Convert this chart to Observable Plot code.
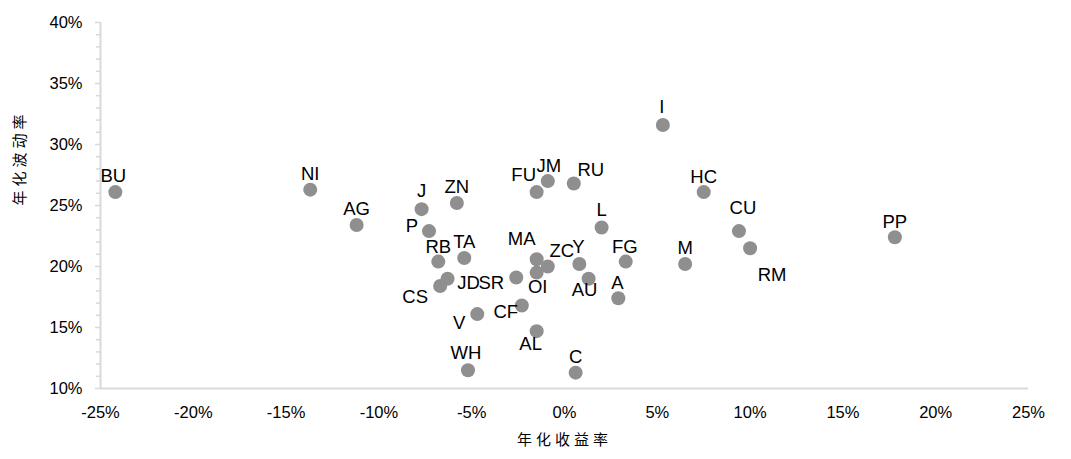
<!DOCTYPE html>
<html>
<head>
<meta charset="utf-8">
<script src="https://cdn.jsdelivr.net/npm/d3@7"></script>
<script src="https://cdn.jsdelivr.net/npm/@observablehq/plot@0.6"></script>
<style>
  html, body { margin: 0; padding: 0; background: #fff; }
  #chart svg { display: block; }
</style>
</head>
<body>
<div id="chart"></div>
<script>
// Commodity futures: annualized return (%) vs annualized volatility (%)
const names = ["BU","NI","AG","J","ZN","P","RB","TA","JD","CS","SR","MA","ZC","OI","Y","AU","A","FG","CF","V","AL","WH","C","FU","JM","RU","L","I","HC","CU","RM","M","PP"];
const annualReturn = [-24.2,-13.7,-11.2,-7.7,-5.8,-7.3,-6.8,-5.4,-6.3,-6.7,-2.6,-1.5,-0.9,-1.5,0.8,1.3,2.9,3.3,-2.3,-4.7,-1.5,-5.2,0.6,-1.5,-0.9,0.5,2.0,5.3,7.5,9.4,10.0,6.5,17.8];
const annualVol = [26.1,26.3,23.4,24.7,25.2,22.9,20.4,20.7,19.0,18.4,19.1,20.6,20.0,19.5,20.2,19.0,17.4,20.4,16.8,16.1,14.7,11.5,11.3,26.1,27.0,26.8,23.2,31.6,26.1,22.9,21.5,20.2,22.4];
const xTicks = [-25,-20,-15,-10,-5,0,5,10,15,20,25];
const yTicks = [10,15,20,25,30,35,40];
const xTitle = "年化收益率";
const yTitle = "年化波动率";

// label placement (pixel offsets from point centre), layout only
const defaultOffset = [0, -16];
const labelOffset = {
  BU:[-2,-16], J:[0,-18], P:[-17,-5], RB:[0,-15], JD:[21,4], SR:[-25,6], CS:[-25,11],
  MA:[-15,-20], ZC:[14,-15], Y:[-1,-17], OI:[1,14], AU:[-4,11], A:[-1,-15], FG:[-1,-15],
  CF:[-16,7], V:[-18,9], AL:[-6,13], WH:[-2,-17], JM:[1,-15], FU:[-13,-17], RU:[17,-13],
  L:[0,-17], I:[-1,-18], HC:[0,-15], CU:[4,-23], RM:[22,27], PP:[0,-15]
};

const data = names.map((n, i) => ({name: n, ret: annualReturn[i], vol: annualVol[i]}));
const minorTicks = d3.range(10, 41, 1).filter(v => v % 5 !== 0);

const axisColor = "#d9d9d9";
const pct = d => `${d}%`;

const labelMarks = data.map(d => {
  const [dx, dy] = labelOffset[d.name] || defaultOffset;
  return Plot.text([d], {x: "ret", y: "vol", text: "name", dx, dy, fill: "#000", fontSize: 18.5});
});

const chart = Plot.plot({
  width: 1071,
  height: 459,
  marginLeft: 100,
  marginRight: 43,
  marginTop: 22,
  marginBottom: 71,
  style: {fontFamily: "'Liberation Sans', Arial, sans-serif", fontSize: "16px", color: "#000", background: "#fff"},
  x: {domain: [-25, 25], axis: null},
  y: {domain: [10, 40], axis: null},
  marks: [
    Plot.axisY({ticks: minorTicks, tickSize: 4, text: null, label: null, stroke: axisColor, strokeWidth: 1.5}),
    Plot.axisY({ticks: yTicks, tickSize: 5, tickPadding: 13, tickFormat: pct, stroke: axisColor, strokeWidth: 1.5, fill: "#000", fontSize: 16.5, label: null}),
    Plot.axisX({ticks: xTicks, tickSize: 0, tickPadding: 18, tickFormat: pct, fill: "#000", fontSize: 16.5, label: null}),
    Plot.ruleX([-25], {stroke: axisColor, strokeWidth: 2}),
    Plot.ruleY([10], {stroke: axisColor, strokeWidth: 2}),
    Plot.dot(data, {x: "ret", y: "vol", r: 7, fill: "#8f8f8f", stroke: null}),
    ...labelMarks,
    Plot.text([xTitle], {frameAnchor: "bottom", dy: 56, text: d => d, fontSize: 15, fontFamily: "'Noto Sans CJK SC', sans-serif", fill: "#000"}),
    Plot.text([yTitle], {frameAnchor: "left", dx: -80, rotate: -90, text: d => d, fontSize: 15, fontFamily: "'Noto Sans CJK SC', sans-serif", fill: "#000"})
  ]
});

chart.querySelectorAll("text").forEach(t => {
  if (t.textContent === xTitle || t.textContent === yTitle) t.setAttribute("letter-spacing", "4px");
});
document.getElementById("chart").appendChild(chart);
</script>
</body>
</html>
